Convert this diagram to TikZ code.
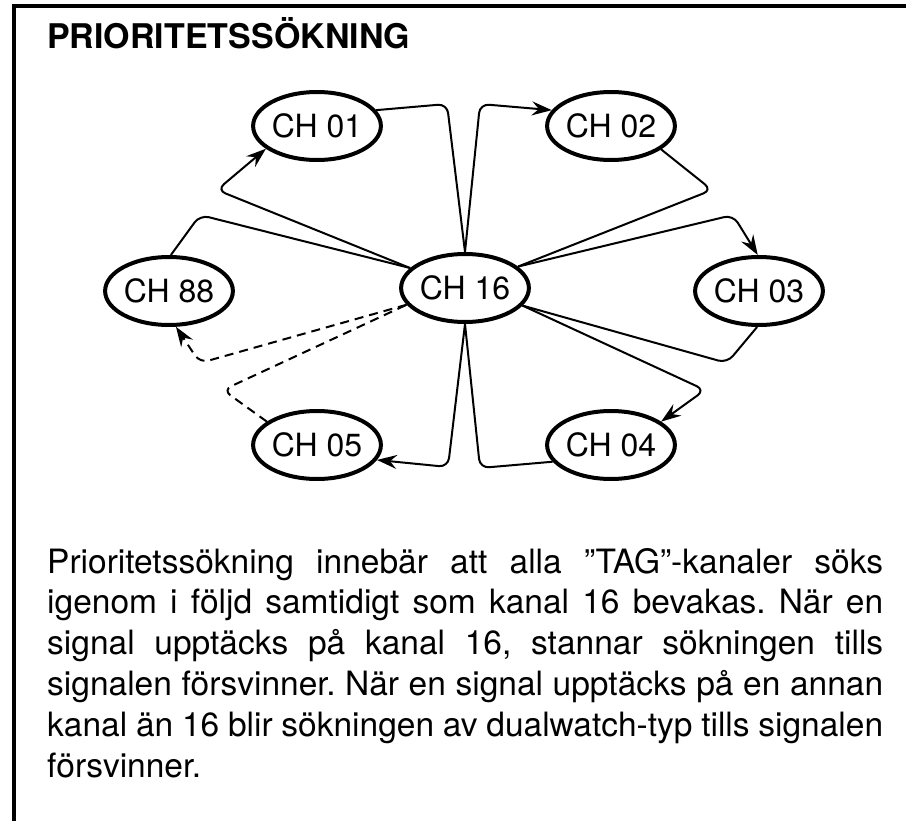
\documentclass[tikz,border=0pt]{standalone}
\usepackage{fontspec}
\setmainfont{TeX Gyre Heros}
\newfontfamily\bodyfont{TeX Gyre Heros}
\usetikzlibrary{arrows.meta,shapes.geometric}
\tikzset{
  ch/.style={ellipse, draw, line width=4pt, minimum width=106pt, minimum height=68pt, inner sep=0pt,
    font=\fontsize{32}{38}\selectfont},
  link/.style={line width=2pt, rounded corners=9pt},
  arr/.style={-{Stealth[length=20pt,width=14pt,inset=7pt]}},
  dsh/.style={dash pattern=on 9pt off 6pt}
}
\begin{document}
\begin{tikzpicture}[x=1pt,y=-1pt]
\useasboundingbox (0,0) rectangle (906,821);
\coordinate (fb) at (14,823);
\coordinate (fc) at (14,6);
\coordinate (fr) at (908,6);
\draw[line width=4pt] (fb) -- (fc) -- (fr);

\node[anchor=base west, inner sep=0pt, font=\bodyfont\bfseries\fontsize{34}{40}\selectfont] (title) at (47,49) {PRIORITETSSÖKNING};

\node[ch] (c01) at (317,126) {CH 01};
\node[ch] (c02) at (611,126) {CH 02};
\node[ch] (c88) at (169,291) {CH 88};
\node[ch] (c16) at (465,288) {CH 16};
\node[ch] (c03) at (759,291) {CH 03};
\node[ch] (c05) at (317,445) {CH 05};
\node[ch] (c04) at (611,445) {CH 04};

\coordinate (k1) at (200,215);
\coordinate (k2) at (217,190);
\coordinate (k3) at (447,104);
\coordinate (k4) at (480,104);
\coordinate (k5) at (712,190);
\coordinate (k6) at (733,215);
\coordinate (k7) at (727,363);
\coordinate (k8) at (705,390);
\coordinate (k9) at (480,468);
\coordinate (k10) at (448,467);
\coordinate (k11) at (223,390);
\coordinate (k12) at (200,363);

\draw[link] (c88.87) -- (k1) -- (c16.160);
\draw[link,arr] (c16.160) -- (k2) -- (c01.204);
\draw[link] (c01.15) -- (k3) -- (c16.90);
\draw[link,arr] (c16.90) -- (k4) -- (c02.165);
\draw[link] (c02.335) -- (k5) -- (c16.22);
\draw[link,arr] (c16.22) -- (k6) -- (c03.92);
\draw[link] (c03.267) -- (k7) -- (c16.343);
\draw[link,arr] (c16.343) -- (k8) -- (c04.25);
\draw[link] (c04.196) -- (k9) -- (c16.270);
\draw[link,arr] (c16.270) -- (k10) -- (c05.346);
\draw[link,dsh] (c05.155) -- (k11) -- (c16.196);
\draw[link,dsh,arr] (c16.196) -- (k12) -- (c88.281);

\node[anchor=base west, inner sep=0pt, text width=836pt, align=justify,
  font=\bodyfont\fontsize{33.5}{40.8}\selectfont] (body) at (47,573)
{\frenchspacing\hyphenpenalty=10000 Prioritetssökning innebär att alla ”TAG”-kanaler söks\linebreak
igenom i följd samtidigt som kanal 16 bevakas. När en\linebreak
signal upptäcks på kanal 16, stannar sökningen tills\linebreak
signalen försvinner. När en signal upptäcks på en annan\linebreak
kanal än 16 blir sökningen av dualwatch-typ tills signalen\linebreak
försvinner.};
\end{tikzpicture}
\end{document}
